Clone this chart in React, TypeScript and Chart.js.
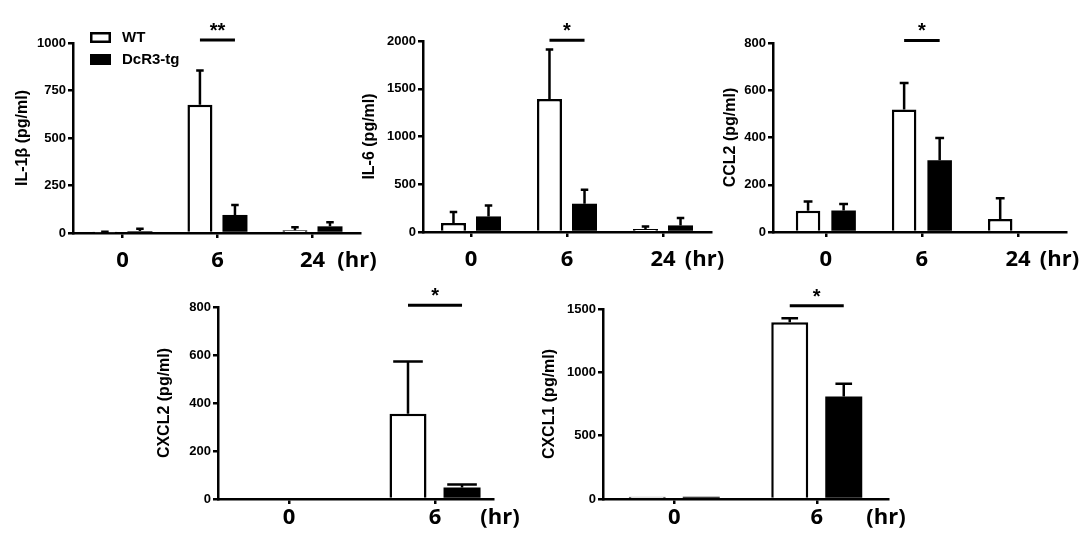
import React, { useEffect, useRef } from "react";
import { Chart, registerables } from "chart.js";

Chart.register(...registerables);

// ---------- data ----------
const hoursTop = ["0", "6", "24"];
const hoursBottom = ["0", "6"];
const groupNames = ["WT", "DcR3-tg"];

const il1bWT = [2, 675, 15];
const il1bWTErr = [4, 180, 15];
const il1bTg = [10, 95, 35];
const il1bTgErr = [13, 52, 22];
const il1bTicks = [0, 250, 500, 750, 1000];

const il6WT = [94, 1392, 31];
const il6WTErr = [115, 518, 27];
const il6Tg = [163, 296, 69];
const il6TgErr = [115, 146, 77];
const il6Ticks = [0, 500, 1000, 1500, 2000];

const ccl2WT = [90, 519, 55];
const ccl2WTErr = [39, 112, 88];
const ccl2Tg = [91, 304, 0];
const ccl2TgErr = [27, 94, 0];
const ccl2Ticks = [0, 200, 400, 600, 800];

const cxcl2WT = [0, 355];
const cxcl2WTErr = [0, 218];
const cxcl2Tg = [0, 48];
const cxcl2TgErr = [0, 12];
const cxcl2Ticks = [0, 200, 400, 600, 800];

const cxcl1WT = [18, 1395];
const cxcl1WTErr = [0, 32];
const cxcl1Tg = [18, 809];
const cxcl1TgErr = [0, 100];
const cxcl1Ticks = [0, 500, 1000, 1500];

// significance: category index, bracket level (data units), mark
const il1bSig = { at: 1, level: 1016, mark: "**" };
const il6Sig = { at: 1, level: 2007, mark: "*" };
const ccl2Sig = { at: 1, level: 811, mark: "*" };
const cxcl2Sig = { at: 1, level: 807, mark: "*" };
const cxcl1Sig = { at: 1, level: 1526, mark: "*" };

// ---------- layout / style ----------
const SANS = "'Liberation Sans', Arial, sans-serif";
const BIG = "'Open Sans', 'Liberation Sans', sans-serif";
const YW = 73; // y-axis box width
const PT = 33; // top padding
const PR = 30; // right padding
const XH = 50; // x-axis box height
const TICK_LEN = 5;
const LINE = 2.5;
const XLABEL_SIZE = 22;

type Panel = {
  title: string;
  hours: string[];
  wt: number[];
  wtErr: number[];
  tg: number[];
  tgErr: number[];
  ticks: number[];
  sig: { at: number; level: number; mark: string };
  legend: boolean;
  area: { x0: number; y0: number; x1: number; y1: number };
  xMin: number;
  xMax: number;
  cat: number;
  bar: number;
  titleGap: number;
  labelPad: number;
  hrDx: number;
  capFrac: number;
};

const panels: Panel[] = [
  {
    title: "IL-1β (pg/ml)", hours: hoursTop, wt: il1bWT, wtErr: il1bWTErr, tg: il1bTg, tgErr: il1bTgErr,
    ticks: il1bTicks, sig: il1bSig, legend: true,
    area: { x0: 73, y0: 43, x1: 360, y1: 233 }, xMin: -0.52, xMax: 2.5, cat: 0.737, bar: 0.714,
    titleGap: 50, labelPad: 10, hrDx: -3, capFrac: 0.3,
  },
  {
    title: "IL-6 (pg/ml)", hours: hoursTop, wt: il6WT, wtErr: il6WTErr, tg: il6Tg, tgErr: il6TgErr,
    ticks: il6Ticks, sig: il6Sig, legend: false,
    area: { x0: 423, y0: 41, x1: 711, y1: 232 }, xMin: -0.5, xMax: 2.5, cat: 0.73, bar: 0.714,
    titleGap: 53, labelPad: 10, hrDx: -6.5, capFrac: 0.3,
  },
  {
    title: "CCL2 (pg/ml)", hours: hoursTop, wt: ccl2WT, wtErr: ccl2WTErr, tg: ccl2Tg, tgErr: ccl2TgErr,
    ticks: ccl2Ticks, sig: ccl2Sig, legend: false,
    area: { x0: 773, y0: 43, x1: 1066, y1: 232 }, xMin: -0.55, xMax: 2.5, cat: 0.74, bar: 0.69,
    titleGap: 42, labelPad: 10, hrDx: -6.5, capFrac: 0.36,
  },
  {
    title: "CXCL2 (pg/ml)", hours: hoursBottom, wt: cxcl2WT, wtErr: cxcl2WTErr, tg: cxcl2Tg, tgErr: cxcl2TgErr,
    ticks: cxcl2Ticks, sig: cxcl2Sig, legend: false,
    area: { x0: 218, y0: 307, x1: 493, y1: 499 }, xMin: -0.486, xMax: 1.397, cat: 0.74, bar: 0.685,
    titleGap: 53, labelPad: 1, hrDx: 7, capFrac: 0.8,
  },
  {
    title: "CXCL1 (pg/ml)", hours: hoursBottom, wt: cxcl1WT, wtErr: cxcl1WTErr, tg: cxcl1Tg, tgErr: cxcl1TgErr,
    ticks: cxcl1Ticks, sig: cxcl1Sig, legend: false,
    area: { x0: 603, y0: 309, x1: 888, y1: 499 }, xMin: -0.5, xMax: 1.5, cat: 0.758, bar: 0.685,
    titleGap: 53, labelPad: 1, hrDx: -2, capFrac: 0.45,
  },
];

function geom(p: Panel) {
  const left = p.area.x0 - YW;
  const top = p.area.y0 - PT;
  const w = p.area.x1 - left + PR;
  const h = p.area.y1 - top + XH;
  return { left, top, w, h };
}

function buildConfig(p: Panel): any {
  const titleFontSize = 16;
  const titleLH = titleFontSize * 1.2;
  const titlePad = YW - p.titleGap - titleLH / 2;
  const errs = [p.wtErr, p.tgErr];

  const overlay = {
    id: "overlay",
    afterDatasetsDraw(chart: any) {
      const ctx = chart.ctx;
      const yScale = chart.scales.y;
      ctx.save();
      ctx.strokeStyle = "#000";
      ctx.lineWidth = LINE;
      ctx.lineCap = "butt";
      chart.data.datasets.forEach((ds: any, di: number) => {
        const meta = chart.getDatasetMeta(di);
        meta.data.forEach((el: any, i: number) => {
          const v = ds.data[i].y;
          const e = errs[di][i];
          if (!e) return;
          const yTop = yScale.getPixelForValue(v);
          const yErr = yScale.getPixelForValue(v + e);
          const capW = el.width * p.capFrac;
          ctx.beginPath();
          ctx.moveTo(el.x, yTop);
          ctx.lineTo(el.x, yErr);
          ctx.moveTo(el.x - capW / 2, yErr);
          ctx.lineTo(el.x + capW / 2, yErr);
          ctx.stroke();
        });
      });
      ctx.restore();
    },
    afterDraw(chart: any) {
      const ctx = chart.ctx;
      const yScale = chart.scales.y;
      const area = chart.chartArea;
      ctx.save();
      // significance bracket
      const a = chart.getDatasetMeta(0).data[p.sig.at];
      const b = chart.getDatasetMeta(1).data[p.sig.at];
      const ly = yScale.getPixelForValue(p.sig.level);
      ctx.strokeStyle = "#000";
      ctx.lineWidth = 3;
      ctx.beginPath();
      ctx.moveTo(a.x, ly);
      ctx.lineTo(b.x, ly);
      ctx.stroke();
      ctx.fillStyle = "#000";
      ctx.font = `bold 20px ${SANS}`;
      ctx.textAlign = "center";
      ctx.textBaseline = "alphabetic";
      ctx.fillText(p.sig.mark, (a.x + b.x) / 2, ly - 3);

      // (hr) unit label
      ctx.font = `bold ${XLABEL_SIZE}px ${BIG}`;
      ctx.textBaseline = "middle";
      const hy = area.bottom + TICK_LEN + p.labelPad + (XLABEL_SIZE * 1.2) / 2;
      ctx.fillText("(hr)", area.right + p.hrDx, hy);

      // legend
      if (p.legend) {
        const lx = area.left + 17;
        let ty = area.top - 11;
        chart.data.datasets.forEach((ds: any) => {
          const bw = 21;
          const bh = 11;
          if (ds.backgroundColor === "#ffffff") {
            ctx.fillStyle = "#ffffff";
            ctx.fillRect(lx, ty, bw, bh);
            ctx.strokeStyle = "#000";
            ctx.lineWidth = LINE;
            ctx.strokeRect(lx + LINE / 2, ty + LINE / 2, bw - LINE, bh - LINE);
          } else {
            ctx.fillStyle = ds.backgroundColor;
            ctx.fillRect(lx, ty, bw, bh);
          }
          ctx.fillStyle = "#000";
          ctx.font = `bold 15px ${SANS}`;
          ctx.textAlign = "left";
          ctx.textBaseline = "middle";
          ctx.fillText(ds.label, lx + bw + 11, ty + bh / 2 + 0.5);
          ty += 22;
        });
      }
      ctx.restore();
    },
  };

  return {
    type: "bar",
    data: {
      datasets: [
        {
          label: groupNames[0],
          data: p.wt.map((v, i) => ({ x: i, y: v })),
          backgroundColor: "#ffffff",
          borderColor: "#000000",
          borderWidth: LINE,
          categoryPercentage: p.cat,
          barPercentage: p.bar,
        },
        {
          label: groupNames[1],
          data: p.tg.map((v, i) => ({ x: i, y: v })),
          backgroundColor: "#000000",
          borderColor: "#000000",
          borderWidth: 0,
          categoryPercentage: p.cat,
          barPercentage: p.bar,
        },
      ],
    },
    options: {
      animation: false,
      responsive: false,
      maintainAspectRatio: false,
      events: [],
      layout: { padding: { left: 0, top: PT, right: PR, bottom: 0 } },
      plugins: {
        legend: { display: false },
        tooltip: { enabled: false },
      },
      scales: {
        x: {
          type: "linear",
          min: p.xMin,
          max: p.xMax,
          offset: false,
          afterBuildTicks: (scale: any) => {
            scale.ticks = p.hours.map((_, i) => ({ value: i }));
          },
          afterFit: (scale: any) => {
            scale.height = XH;
          },
          ticks: {
            callback: (_v: any, i: number) => p.hours[i],
            color: "#000",
            font: { family: BIG, size: XLABEL_SIZE, weight: "bold" },
            padding: p.labelPad,
            maxRotation: 0,
            autoSkip: false,
          },
          grid: {
            display: true,
            drawOnChartArea: false,
            drawTicks: true,
            tickLength: TICK_LEN,
            color: "#000",
            lineWidth: LINE,
            offset: false,
          },
          border: { display: true, color: "#000", width: LINE },
        },
        y: {
          type: "linear",
          min: 0,
          max: p.ticks[p.ticks.length - 1],
          afterBuildTicks: (scale: any) => {
            scale.ticks = p.ticks.map((v) => ({ value: v }));
          },
          afterFit: (scale: any) => {
            scale.width = YW;
          },
          ticks: {
            callback: (v: any) => String(v),
            color: "#000",
            font: { family: SANS, size: 13, weight: "bold" },
            padding: 2,
            autoSkip: false,
          },
          grid: {
            display: true,
            drawOnChartArea: false,
            drawTicks: true,
            tickLength: TICK_LEN,
            color: "#000",
            lineWidth: LINE,
          },
          border: { display: true, color: "#000", width: LINE },
          title: {
            display: true,
            text: p.title,
            color: "#000",
            font: { family: SANS, size: titleFontSize, weight: "bold" },
            padding: { top: titlePad, bottom: 0 },
          },
        },
      },
    },
    plugins: [overlay],
  };
}

function PanelChart({ p }: { p: Panel }) {
  const ref = useRef<HTMLCanvasElement>(null);
  const g = geom(p);
  useEffect(() => {
    const chart = new Chart(ref.current as HTMLCanvasElement, buildConfig(p));
    return () => chart.destroy();
  }, []);
  return (
    <canvas
      ref={ref}
      width={g.w}
      height={g.h}
      style={{ position: "absolute", left: g.left, top: g.top, width: g.w, height: g.h }}
    />
  );
}

export default function App() {
  return (
    <div
      style={{
        position: "absolute",
        left: 0,
        top: 0,
        width: 1084,
        height: 541,
        overflow: "hidden",
        background: "#ffffff",
      }}
    >
      {panels.map((p, i) => (
        <PanelChart key={i} p={p} />
      ))}
    </div>
  );
}
